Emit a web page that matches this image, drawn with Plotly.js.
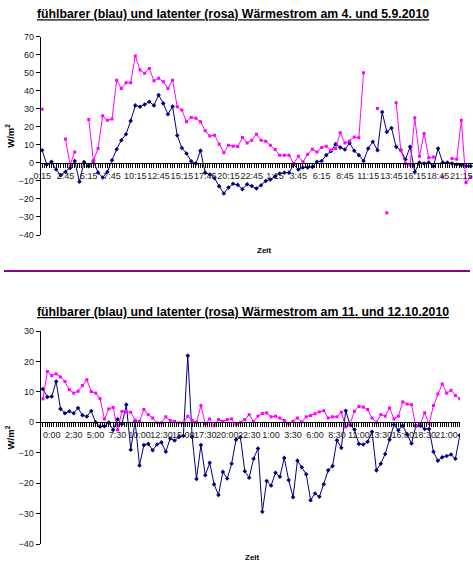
<!DOCTYPE html>
<html>
<head>
<meta charset="utf-8">
<script src="https://cdn.plot.ly/plotly-3.0.1.min.js"></script>
<style>html,body{margin:0;padding:0;background:#fff;}#chart{width:473px;height:562px;}</style>
</head>
<body>
<div id="chart"></div>
<script>
// ---------- Data: 4./5.9.2010 (half-hourly, first point 0:15) ----------
var sepLabels = ['0:15','2:45','5:15','7:45','10:15','12:45','15:15','17:45','20:15','22:45','1:15','3:45','6:15','8:45','11:15','13:45','16:15','18:45','21:15'];
var sepSensible = [7.0,-0.9,0.6,-3.7,-6.8,-5.0,-2.8,1.1,-10.5,0.5,
  -1.8,1.1,-5.4,-8.1,-5.0,1.5,7.6,12.6,15.9,23.3,
  31.9,31.1,32.4,33.9,31.9,37.6,33.0,27.0,31.3,15.2,
  8.3,5.2,0.9,-0.4,6.8,-5.4,-6.4,-8.5,-12.9,-17.0,
  -13.7,-11.6,-12.2,-14.6,-11.8,-12.8,-14.2,-12.4,-10.0,-9.2,
  -7.4,-5.9,-5.4,-5.4,-0.9,-3.7,-2.6,-2.6,-2.2,0.6,
  1.1,4.3,6.5,10.4,8.6,7.4,11.1,6.7,4.3,1.1,
  8.0,11.7,7.0,28.2,17.2,19.4,8.9,7.0,1.9,8.9,
  -5.0,0.2,-0.4,0.2,-1.8,8.0,0.2,0.2,-0.4,-0.9,
  -1.3,-1.8,-1.8];
var sepLatent = [29.7,null,null,null,null,13.3,-0.9,6.1,null,null,
  24.1,1.3,8.0,26.1,23.7,24.3,45.9,41.3,44.4,44.4,
  59.3,51.5,49.7,52.4,45.6,46.9,45.0,41.3,45.9,31.1,
  29.3,22.8,25.2,24.7,22.8,17.8,14.9,15.4,10.4,5.6,
  9.8,9.3,9.1,14.1,11.1,12.6,15.9,12.6,12.0,9.8,
  7.4,4.3,4.3,4.3,-0.4,3.7,0.6,4.8,7.6,6.1,
  8.6,9.3,7.0,8.0,16.7,11.1,12.2,14.4,13.9,50.0,
  null,null,30.2,null,-27.6,null,33.3,7.0,-0.4,-1.3,
  25.0,3.7,16.3,2.8,3.3,null,-7.8,null,2.4,2.0,
  23.7,-10.9,-7.8];

// ---------- Data: 11./12.10.2010 (half-hourly, label 0:00 at third point) ----------
var octLabels = ['0:00','2:30','5:00','7:30','10:00','12:30','15:00','17:30','20:00','22:30','1:00','3:30','6:00','8:30','11:00','13:30','16:00','18:30','21:00'];
var octSensible = [10.9,8.3,8.5,13.4,4.4,3.0,3.6,3.0,4.7,2.3,
  1.9,3.7,0.0,-1.4,-1.3,-0.1,-2.5,1.0,-0.6,5.8,
  -9.0,0.3,-14.2,-7.5,-7.1,-9.2,-7.3,-6.6,-9.7,-5.3,
  -6.0,-4.8,-4.4,21.9,-4.8,-18.6,-7.5,-17.4,-13.3,-20.4,
  -23.9,-16.3,-18.5,-13.6,-5.7,-4.9,-16.1,-18.2,-12.0,-8.6,
  -29.4,-19.3,-20.8,-16.6,-17.9,-11.7,-19.0,-24.6,-12.6,-14.8,
  -17.1,-25.6,-23.4,-24.5,-20.4,-15.8,-14.4,-5.9,-8.4,3.8,
  -0.8,-2.4,-7.1,-7.3,-6.4,-3.1,-15.8,-13.6,-10.4,-5.7,
  -0.8,-2.6,-1.1,-4.0,-7.0,-1.1,-1.1,-2.2,-2.2,-9.7,
  -12.6,-11.5,-11.1,-10.6,-12.0,-4.3];
var octLatent = [7.7,16.7,15.3,15.9,14.9,13.4,10.7,9.6,10.2,12.1,
  14.0,10.1,9.6,7.8,1.1,4.4,4.9,-2.5,3.6,3.4,
  3.3,0.7,0.3,4.2,2.5,1.4,-0.2,-0.2,1.8,0.6,
  0.3,-0.2,-0.2,2.0,0.6,0.0,5.5,-0.5,1.1,-1.1,
  0.9,0.3,0.9,1.1,-0.8,0.0,0.9,2.5,0.3,2.0,
  2.9,3.1,1.8,2.0,1.4,0.6,-0.4,0.3,1.4,0.1,
  1.8,2.2,2.8,3.4,3.8,1.4,1.8,1.8,3.3,-1.5,
  -0.5,3.6,5.2,5.0,4.2,1.4,0.0,2.5,2.0,4.7,
  1.1,2.0,6.7,6.0,5.8,-1.3,-0.5,3.1,-0.5,5.5,
  9.3,12.6,9.6,10.5,8.8,7.7];

var sepFirstLabel = 0, octFirstLabel = 2, labelStep = 5;

function idx(arr){ return arr.map(function(_, i){ return i; }); }
function tickPos(labels, first){ return labels.map(function(_, k){ return first + k*labelStep; }); }

var BLUE = '#000080', PINK = '#FF00FF';
var FONT = 'Liberation Sans, Arial, sans-serif';

var traces = [
  {x: idx(sepSensible), y: sepSensible, xaxis:'x', yaxis:'y', type:'scatter', mode:'lines+markers',
   name:'fühlbar', line:{color:BLUE, width:1}, marker:{color:BLUE, symbol:'diamond', size:3.5}, connectgaps:false},
  {x: idx(sepLatent), y: sepLatent, xaxis:'x', yaxis:'y', type:'scatter', mode:'lines+markers',
   name:'latent', line:{color:PINK, width:1}, marker:{color:PINK, symbol:'square', size:3}, connectgaps:false},
  {x: idx(octSensible), y: octSensible, xaxis:'x2', yaxis:'y2', type:'scatter', mode:'lines+markers',
   name:'fühlbar', line:{color:BLUE, width:1}, marker:{color:BLUE, symbol:'diamond', size:3.5}},
  {x: idx(octLatent), y: octLatent, xaxis:'x2', yaxis:'y2', type:'scatter', mode:'lines+markers',
   name:'latent', line:{color:PINK, width:1}, marker:{color:PINK, symbol:'square', size:3}}
];

var H = 562, W = 473;
function py(px){ return 1 - px/H; }
function pxX(px){ return px/W; }

var topDom = [py(235), py(36.7)];
var botDom = [py(544), py(331)];
function zeroPos(dom, lo, hi){ return dom[0] + (dom[1]-dom[0])*(-lo)/(hi-lo); }

function xAxis(labels, first, range, dom, yDom, lo, hi){
  return {
    domain: dom, range: range, anchor:'free',
    position: zeroPos(yDom, lo, hi),
    showline:true, linecolor:'#000', linewidth:1,
    showgrid:false, zeroline:false,
    tickmode:'array', tickvals: tickPos(labels, first), ticktext: labels,
    tickangle: 0,
    ticks:'outside', ticklen:4, tickcolor:'#000', tickwidth:1,
    minor:{tickmode:'linear', tick0:0, dtick:0.5, ticks:'outside', ticklen:4, tickcolor:'#000', tickwidth:1, showgrid:false},
    tickfont:{family:FONT, size:9, color:'#222'}
  };
}
function yAxis(range, dom, anchorX, dtick){
  return {
    domain: dom, range: range, anchor: anchorX,
    showline:true, linecolor:'#000', linewidth:1.3,
    showgrid:false, zeroline:false,
    dtick: dtick, tick0: 0,
    ticks:'outside', ticklen:4, tickcolor:'#000',
    tickfont:{family:FONT, size:9, color:'#222'},
    title:{text:'<b>W/m<sup>2</sup></b>', font:{family:FONT, size:9.5, color:'#000'}, standoff:2}
  };
}

var layout = {
  width: W, height: H,
  margin:{l:0, r:0, t:0, b:0, pad:0},
  paper_bgcolor:'#fff', plot_bgcolor:'#fff',
  showlegend:false,
  font:{family:FONT},
  title:{text:'<b>fühlbarer (blau) und latenter (rosa) Wärmestrom am 4. und 5.9.2010</b>',
         x: pxX(233), xanchor:'center', y: py(14), yanchor:'middle', xref:'paper', yref:'paper',
         font:{family:FONT, size:12.3, color:'#000', lineposition:'under'}},
  xaxis: xAxis(sepLabels, sepFirstLabel, [-0.25, 92.5], [pxX(41), 1], topDom, -40, 70),
  yaxis: yAxis([-40, 70], topDom, 'x', 10),
  xaxis2: xAxis(octLabels, octFirstLabel, [-0.45, 95.05], [pxX(41), pxX(460)], botDom, -40, 30),
  yaxis2: yAxis([-40, 30], botDom, 'x2', 10),
  annotations:[
    {text:'<b>fühlbarer (blau) und latenter (rosa) Wärmestrom am 11. und 12.10.2010</b>',
     xref:'paper', yref:'paper', x: pxX(243), y: py(312), xanchor:'center', yanchor:'middle', showarrow:false,
     font:{family:FONT, size:12.3, color:'#000', lineposition:'under'}},
    {text:'<b>Zeit</b>', xref:'paper', yref:'paper', x: pxX(264), y: py(250), xanchor:'center', yanchor:'middle',
     showarrow:false, font:{family:FONT, size:8, color:'#000'}},
    {text:'<b>Zeit</b>', xref:'paper', yref:'paper', x: pxX(253), y: py(557), xanchor:'center', yanchor:'middle',
     showarrow:false, font:{family:FONT, size:8, color:'#000'}}
  ],
  shapes:[
    {type:'line', xref:'paper', yref:'paper', x0: pxX(4), x1: pxX(470), y0: py(271), y1: py(271),
     line:{color:'#8B008B', width:2}}
  ]
};

Plotly.newPlot('chart', traces, layout, {staticPlot:true, displayModeBar:false});
</script>
</body>
</html>
